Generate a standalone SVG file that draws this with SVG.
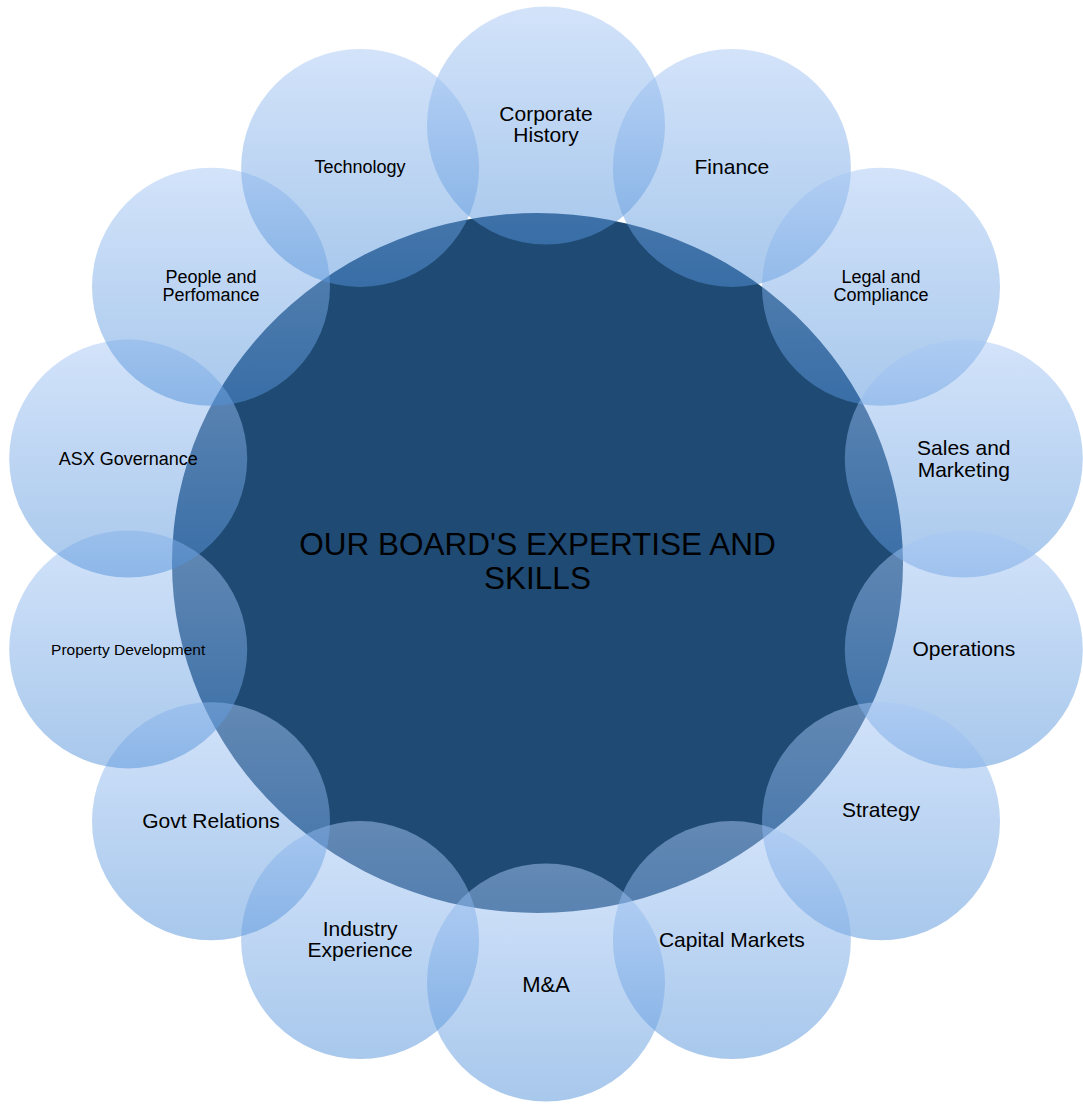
<svg xmlns="http://www.w3.org/2000/svg" width="1083" height="1104" viewBox="0 0 1083 1104">
<defs>
<linearGradient id="g" x1="0" y1="0" x2="0" y2="1">
<stop offset="0" stop-color="#a7c7f5"/>
<stop offset="1" stop-color="#5191d9"/>
</linearGradient>
<style>
.c{fill:url(#g);fill-opacity:0.5;}
text{font-family:"Liberation Sans",Arial,sans-serif;fill:#000;text-anchor:middle;}
</style>
</defs>
<rect width="1083" height="1104" fill="#fff"/>
<g id="center">
<ellipse cx="537.5" cy="563" rx="365.5" ry="350" fill="#1f4a73"/>
<text font-size="31.5" x="537.5" y="555">OUR BOARD'S EXPERTISE AND</text>
<text font-size="31.5" x="537.5" y="589">SKILLS</text>
</g>
<g id="corporate-history"><circle class="c" cx="546" cy="125.5" r="119"/><text font-size="21" x="546" y="121">Corporate</text><text font-size="21" x="546" y="142">History</text></g>
<g id="finance"><circle class="c" cx="731.9" cy="167.9" r="119"/><text font-size="21" x="731.9" y="174">Finance</text></g>
<g id="legal"><circle class="c" cx="881" cy="286.8" r="119"/><text font-size="18" x="881" y="283">Legal and</text><text font-size="18" x="881" y="301">Compliance</text></g>
<g id="sales"><circle class="c" cx="963.8" cy="458.6" r="119"/><text font-size="21" x="963.8" y="455">Sales and</text><text font-size="21" x="963.8" y="477">Marketing</text></g>
<g id="operations"><circle class="c" cx="963.8" cy="649.4" r="119"/><text font-size="21" x="963.8" y="656">Operations</text></g>
<g id="strategy"><circle class="c" cx="881" cy="821.2" r="119"/><text font-size="21" x="881" y="817">Strategy</text></g>
<g id="capital-markets"><circle class="c" cx="731.9" cy="940.1" r="119"/><text font-size="21" x="731.9" y="947">Capital Markets</text></g>
<g id="ma"><circle class="c" cx="546" cy="982.5" r="119"/><text font-size="22" x="546" y="992">M&amp;A</text></g>
<g id="industry"><circle class="c" cx="360.1" cy="940.1" r="119"/><text font-size="21" x="360.1" y="936">Industry</text><text font-size="21" x="360.1" y="957">Experience</text></g>
<g id="govt"><circle class="c" cx="211" cy="821.2" r="119"/><text font-size="21" x="211" y="828">Govt Relations</text></g>
<g id="property"><circle class="c" cx="128.2" cy="649.4" r="119"/><text font-size="15.5" x="128.2" y="655">Property Development</text></g>
<g id="asx"><circle class="c" cx="128.2" cy="458.6" r="119"/><text font-size="18" x="128.2" y="465">ASX Governance</text></g>
<g id="people"><circle class="c" cx="211" cy="286.8" r="119"/><text font-size="18" x="211" y="283">People and</text><text font-size="18" x="211" y="301">Perfomance</text></g>
<g id="technology"><circle class="c" cx="360.1" cy="167.9" r="119"/><text font-size="18" x="360.1" y="173">Technology</text></g>
<g id="connectors"/>
</svg>
